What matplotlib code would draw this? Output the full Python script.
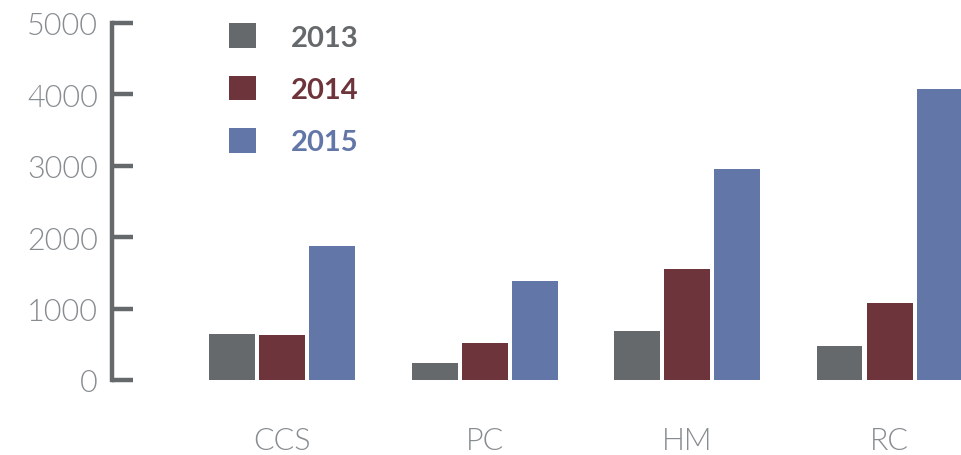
import numpy as np
import matplotlib
matplotlib.use("Agg")
import matplotlib.pyplot as plt
from matplotlib.patches import Patch

categories = ["CCS", "PC", "HM", "RC"]
years = ["2013", "2014", "2015"]
v2013 = [650, 240, 690, 480]
v2014 = [630, 520, 1560, 1080]
v2015 = [1880, 1390, 2960, 4080]
colors = ["#65696b", "#6e343b", "#6276a8"]

plt.rcParams["font.family"] = ["Lato", "DejaVu Sans"]
GRAY = "#878c90"
AXC = "#65696b"

fig = plt.figure(figsize=(9.61, 4.56), dpi=100)
ax = fig.add_axes([112 / 961, 1 - 381 / 456, 1 - 112 / 961, (381 - 24) / 456])

x = np.arange(len(categories))
w = 0.227
step = 0.247
for i, (vals, c) in enumerate(zip([v2013, v2014, v2015], colors)):
    ax.bar(x + (i - 1) * step, vals, width=w, color=c, label=years[i])

ax.set_ylim(0, 5000)
ax.set_xlim(-0.84, 3.353)
ax.set_yticks([0, 1000, 2000, 3000, 4000, 5000])
ax.set_xticks(x)
ax.set_xticklabels(categories)
for s in ["top", "right", "bottom"]:
    ax.spines[s].set_visible(False)
ax.spines["left"].set_color(AXC)
ax.spines["left"].set_linewidth(3.2)
ax.tick_params(axis="y", direction="in", length=15, width=3.2, color=AXC,
               labelsize=22, labelcolor=GRAY, pad=10)
ax.tick_params(axis="x", length=0, labelsize=22, labelcolor=GRAY, pad=33)
for lab in ax.get_yticklabels() + ax.get_xticklabels():
    lab.set_fontweight(300)

handles = [Patch(facecolor=c, edgecolor="none") for c in colors]
leg = ax.legend(handles, years, loc="upper left", bbox_to_anchor=(0.138, 0.999),
                frameon=False, handlelength=0.93, handleheight=0.93,
                handletextpad=1.2, labelspacing=0.85, borderpad=0, borderaxespad=0,
                prop={"weight": "bold", "size": 21})
for t, c in zip(leg.get_texts(), colors):
    t.set_color(c)

fig.savefig("out.png", dpi=100)
